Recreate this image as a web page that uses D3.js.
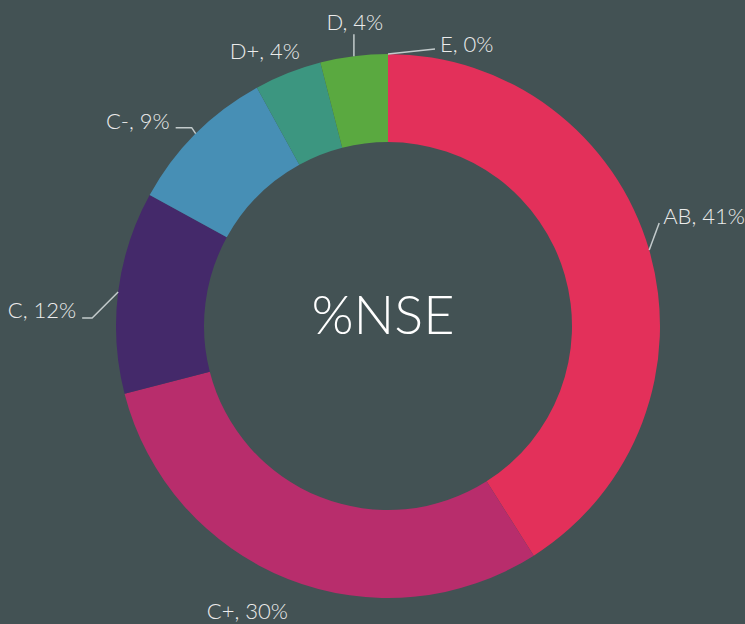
<!DOCTYPE html>
<html>
<head>
<meta charset="utf-8">
<script src="https://cdn.jsdelivr.net/npm/d3@7"></script>
<style>
  html, body { margin: 0; padding: 0; background: #435254; }
  svg { display: block; }
  text { font-family: Lato, "Open Sans", sans-serif; font-weight: 300; fill: #ececec; }
</style>
</head>
<body>
<div id="chart"></div>
<script>
// Chart data
const categories = ["AB", "C+", "C", "C-", "D+", "D", "E"];
const shares = [41, 30, 12, 9, 4, 4, 0];
const colors = ["#e3305a", "#b82d6c", "#44296a", "#478fb5", "#3c9680", "#5aa940", "#6fb04c"];
const centerTitle = "%NSE";

const width = 745, height = 624;
const cx = 388, cy = 326;
const outerR = 272, innerR = 184;

// Label placement tweaks per category (relative to the slice's outer edge point)
const labelLayout = {
    "AB": {bend: [10, -27], tail: 0, anchor: "start", tx: 4, ty: -8},
    "C+": {bend: [0, 0], tail: 0, anchor: "end", tx: 0, ty: 32, noLine: true},
    "C":  {bend: [-26, 26], tail: -10, anchor: "end", tx: -6, ty: -8},
    "C-": {bend: [-4, -6], tail: -16, anchor: "end", tx: -6, ty: -7},
    "D+": {bend: [0, 0], tail: 0, anchor: "end", tx: 12, ty: -23, noLine: true},
    "D":  {bend: [0, -22], tail: 0, anchor: "middle", tx: 1, ty: -13},
    "E":  {bend: [47, -5], tail: 0, anchor: "start", tx: 5, ty: -6}
};

const svg = d3.select("#chart")
    .append("svg")
    .attr("width", width)
    .attr("height", height);

const g = svg.append("g")
    .attr("transform", `translate(${cx},${cy})`);

const pie = d3.pie()
    .sort(null)
    .value(d => d.value);

const data = pie(categories.map((c, i) => ({name: c, value: shares[i], color: colors[i]})));

const arc = d3.arc()
    .innerRadius(innerR)
    .outerRadius(outerR);

// Slices
g.selectAll("path.slice")
    .data(data)
    .enter()
    .append("path")
    .attr("class", "slice")
    .attr("d", arc)
    .attr("fill", d => d.data.color);

// Labels and connectors
data.forEach(d => {
    const mid = (d.startAngle + d.endAngle) / 2;
    const ex = outerR * Math.sin(mid);
    const ey = -outerR * Math.cos(mid);
    const lay = labelLayout[d.data.name];
    const bx = ex + lay.bend[0], by = ey + lay.bend[1];
    const tx = bx + lay.tail;

    if (!lay.noLine) {
        g.append("path")
            .attr("d", d3.line()([[ex, ey], [bx, by], [tx, by]]))
            .attr("fill", "none")
            .attr("stroke", "#c3cbcc")
            .attr("stroke-width", 1.5);
    }

    g.append("text")
        .attr("x", tx + lay.tx)
        .attr("y", by + lay.ty)
        .attr("text-anchor", lay.anchor)
        .attr("dominant-baseline", "central")
        .style("font-size", "22px")
        .text(`${d.data.name}, ${d.data.value}%`);
});

// Center title
g.append("text")
    .attr("x", -5)
    .attr("y", -13)
    .attr("text-anchor", "middle")
    .attr("dominant-baseline", "central")
    .style("font-size", "54px")
    .style("fill", "#ffffff")
    .text(centerTitle);
</script>
</body>
</html>
